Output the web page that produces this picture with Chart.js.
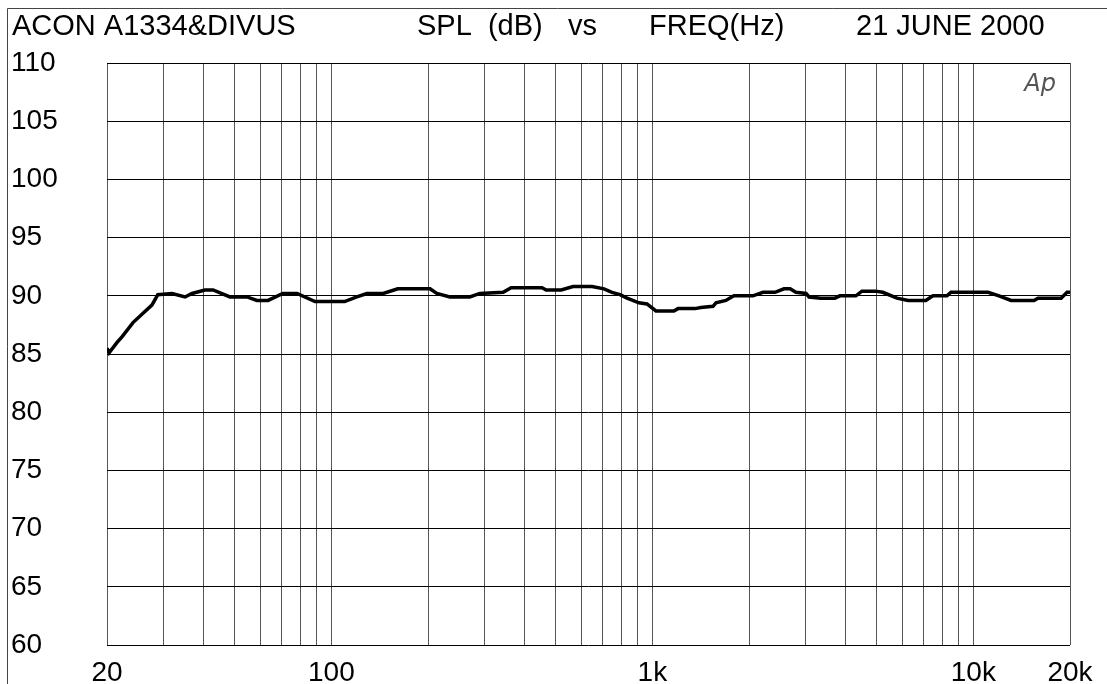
<!DOCTYPE html>
<html>
<head>
<meta charset="utf-8">
<script src="https://cdn.jsdelivr.net/npm/chart.js@4.4.1/dist/chart.umd.min.js"></script>
<style>
body{margin:0;background:#fff}
canvas{display:block}
</style>
</head>
<body>
<canvas id="spl" width="1107" height="684"></canvas>
<script>
// frequency points (Hz) and SPL (dB)
const freqs = [20, 20.3, 21.5, 22.3, 24.1, 25.9, 27.6, 28.8, 31.9, 35.0, 36.8, 40.4, 42.8, 48.3, 54.6, 58.6, 63.5,
    70.6, 78.2, 88.9, 110, 120, 129, 145, 161, 203, 213, 234, 270, 290, 343, 363, 453, 467, 520, 566,
    649, 707, 748, 793, 834, 908, 962, 1026, 1167, 1202, 1358, 1416, 1545, 1578, 1694, 1795, 2057,
    2212, 2410, 2570, 2686, 2800, 3012, 3076, 3350, 3704, 3838, 4306, 4496, 4940, 5222, 5780, 6260,
    7112, 7480, 8280, 8514, 11110, 12020, 13100, 15450, 15900, 18760, 19580, 20000]
const spl = [85.5, 85.1, 86.0, 86.5, 87.7, 88.5, 89.2, 90.1, 90.2, 89.9, 90.2, 90.5, 90.5, 89.9, 89.9, 89.6, 89.6,
    90.2, 90.2, 89.5, 89.5, 89.9, 90.2, 90.2, 90.6, 90.6, 90.2, 89.9, 89.9, 90.2, 90.3, 90.7, 90.7, 90.5, 90.5, 90.8,
    90.8, 90.6, 90.3, 90.1, 89.8, 89.4, 89.3, 88.7, 88.7, 88.9, 88.9, 89.0, 89.1, 89.4, 89.6, 90.0, 90.0,
    90.3, 90.3, 90.6, 90.6, 90.3, 90.2, 89.9, 89.8, 89.8, 90.0, 90.0, 90.4, 90.4, 90.3, 89.8, 89.6,
    89.6, 90.0, 90.0, 90.3, 90.3, 90.0, 89.6, 89.6, 89.8, 89.8, 90.3, 90.3]

const xGridTicks = [20, 30, 40, 50, 60, 70, 80, 90, 100, 200, 300, 400, 500, 600, 700, 800, 900,
    1000, 2000, 3000, 4000, 5000, 6000, 7000, 8000, 9000, 10000, 20000]
const xTickLabels = {20: "20", 100: "100", 1000: "1k", 10000: "10k", 20000: "20k"}
const yMin = 60
const yMax = 110
const yStep = 5

const headings = ["ACON A1334&DIVUS", "SPL  (dB)", "vs", "FREQ(Hz)", "21 JUNE 2000"]
const logoText = "Ap"

const fontFamily = '"Liberation Sans", Arial, sans-serif'

const pagePlugin = {
    id: "page",
    afterDraw(chart) {
        const c = chart.ctx
        c.save()
        // outer frame (left + top)
        c.strokeStyle = "#444"
        c.lineWidth = 1
        c.beginPath()
        c.moveTo(7.5, 684)
        c.lineTo(7.5, 8.5)
        c.lineTo(1107, 8.5)
        c.stroke()

        c.fillStyle = "#000"
        c.font = "29px " + fontFamily
        c.textBaseline = "alphabetic"
        const xs = [12, 417, 568, 649, 856]
        headings.forEach((t, i) => c.fillText(t, xs[i], 35))

        c.fillStyle = "#555"
        c.font = 'italic 200 24px "DejaVu Sans", sans-serif'
        c.textAlign = "right"
        c.fillText(logoText, chart.chartArea.right - 14, 91)
        c.restore()
    }
}

const points = freqs.map((f, i) => ({x: f, y: spl[i]}))

new Chart(document.getElementById("spl"), {
    type: "line",
    data: {
        datasets: [{
            label: "SPL",
            data: points,
            borderColor: "#000",
            borderWidth: 3.5,
            pointRadius: 0,
            tension: 0,
            fill: false
        }]
    },
    options: {
        responsive: false,
        animation: false,
        devicePixelRatio: 1,
        layout: {padding: {left: 11, top: 63, right: 37, bottom: 0}},
        plugins: {
            legend: {display: false},
            tooltip: {enabled: false},
            title: {display: false}
        },
        scales: {
            x: {
                type: "logarithmic",
                min: 20,
                max: 20000,
                afterBuildTicks: (scale) => {
                    scale.ticks = xGridTicks.map(v => ({value: v}))
                },
                afterFit: (scale) => { scale.height = 39 },
                ticks: {
                    autoSkip: false,
                    maxRotation: 0,
                    padding: 11,
                    color: "#000",
                    font: {family: fontFamily, size: 28},
                    callback: (value) => xTickLabels[value] || ""
                },
                grid: {color: "#555", lineWidth: 1, drawTicks: false},
                border: {display: false}
            },
            y: {
                min: yMin,
                max: yMax,
                afterFit: (scale) => { scale.width = 96 },
                ticks: {
                    stepSize: yStep,
                    crossAlign: "far",
                    color: "#000",
                    font: {family: fontFamily, size: 28}
                },
                grid: {color: "#000", lineWidth: 1, drawTicks: false},
                border: {display: false}
            }
        }
    },
    plugins: [pagePlugin]
});
</script>
</body>
</html>
